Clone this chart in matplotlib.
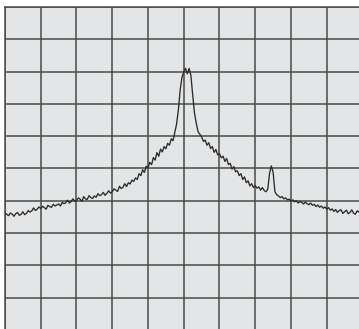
import numpy as np
import matplotlib
matplotlib.use("Agg")
import matplotlib.pyplot as plt

# trace level in screen divisions (0 = bottom line, 10 = top line),
# read off every 0.05 division across the 10 horizontal divisions
level = [
    3.63, 3.58, 3.54, 3.62, 3.59, 3.52, 3.60, 3.64, 3.55, 3.58,
    3.66, 3.57, 3.61, 3.70, 3.65, 3.69, 3.78, 3.70, 3.74, 3.81,
    3.76, 3.83, 3.79, 3.74, 3.86, 3.82, 3.80, 3.89, 3.84, 3.87,
    3.90, 3.84, 3.95, 3.91, 3.94, 4.02, 3.93, 3.98, 4.06, 3.99,
    4.01, 4.09, 4.05, 3.98, 4.13, 4.06, 4.04, 4.16, 4.10, 4.07,
    4.15, 4.11, 4.22, 4.16, 4.19, 4.26, 4.17, 4.23, 4.31, 4.24,
    4.28, 4.37, 4.33, 4.29, 4.45, 4.38, 4.42, 4.53, 4.44, 4.56,
    4.52, 4.64, 4.60, 4.71, 4.66, 4.84, 4.78, 4.96, 4.88, 5.07,
    5.02, 5.19, 5.12, 5.34, 5.26, 5.49, 5.38, 5.60, 5.51, 5.68,
    5.61, 5.78, 5.72, 5.92, 5.86, 6.12, 6.38, 6.82, 7.43, 7.82,
    7.99, 8.10, 7.93, 8.10, 7.88, 7.28, 6.72, 6.40, 6.14, 6.06,
    5.98, 5.84, 5.88, 5.72, 5.80, 5.62, 5.68, 5.50, 5.59, 5.42,
    5.46, 5.33, 5.38, 5.22, 5.31, 5.12, 5.16, 4.98, 5.06, 4.90,
    4.93, 4.78, 4.84, 4.66, 4.74, 4.56, 4.62, 4.46, 4.53, 4.41,
    4.47, 4.39, 4.43, 4.33, 4.41, 4.32, 4.28, 4.36, 4.85, 5.08,
    4.88, 4.28, 4.19, 4.15, 4.10, 4.13, 4.06, 4.09, 4.03, 4.05,
    3.99, 4.03, 3.97, 4.00, 3.93, 3.98, 3.95, 3.90, 3.96, 3.91,
    3.88, 3.93, 3.86, 3.89, 3.82, 3.87, 3.80, 3.84, 3.77, 3.81,
    3.74, 3.79, 3.71, 3.75, 3.67, 3.73, 3.64, 3.70, 3.72, 3.61,
    3.66, 3.71, 3.60, 3.64, 3.72, 3.62, 3.58, 3.69, 3.65, 3.60,
    3.67,
]
freq = np.linspace(0, 10, len(level))

grid_col = "#4a4a4a"
fig = plt.figure(figsize=(3.59, 3.29), dpi=100, facecolor="white")
ax = fig.add_axes([5 / 359, -1 / 329, 357.5 / 359, 323 / 329])
ax.set_facecolor("#e4e5e7")

ax.plot(freq, level, color="#2b2b2b", lw=0.95, zorder=3)

ax.set_xlim(0, 10)
ax.set_ylim(0, 10)
ax.set_xticks(range(11))
ax.set_yticks(range(11))
ax.grid(True, color=grid_col, lw=1.1)
ax.tick_params(length=0, labelbottom=False, labelleft=False)
for sp in ax.spines.values():
    sp.set_color(grid_col)
    sp.set_linewidth(1.1)

fig.savefig("out.png", dpi=100)
